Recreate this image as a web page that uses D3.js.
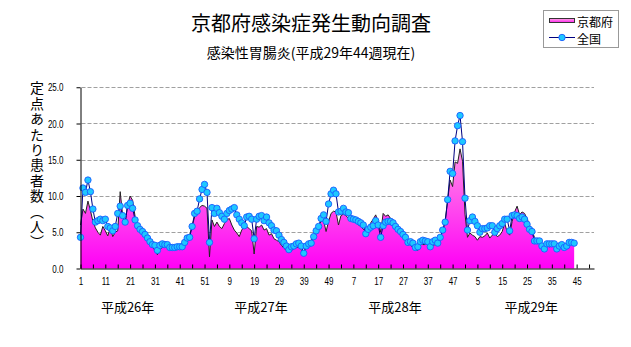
<!DOCTYPE html>
<html><head><meta charset="utf-8">
<script src="https://cdn.jsdelivr.net/npm/d3@7"></script>
<style>body{margin:0;background:#fff} svg{display:block}</style>
</head><body><svg id="c" width="631" height="347"></svg>
<script>
const title = "京都府感染症発生動向調査";
const subtitle = "感染性胃腸炎(平成29年44週現在)";
const yAxisTitle = "定点あたり患者数（人）";
const seriesNames = ["京都府", "全国"];
const yearLabels = ["平成26年", "平成27年", "平成28年", "平成29年"];
const weeksPerYear = 52;
const totalWeeks = 208;
const yTicks = [0, 5, 10, 15, 20, 25];

// 京都府 (i = 0 -> H26 week 1)
const kyoto = [
 6.0, 8.2, 7.6, 9.3, 8.0, 6.5, 5.6, 5.0, 4.6, 5.8, 5.2, 4.5, 5.6, 4.4, 5.0, 5.2, 10.6, 7.3, 6.2, 8.8,
 10.0, 9.4, 7.2, 5.8, 5.1, 4.7, 4.3, 3.9, 3.5, 3.0, 2.5, 1.9, 2.6, 2.9, 3.0, 3.1, 2.8, 2.9, 3.0, 2.9,
 3.2, 3.6, 3.4, 3.9, 4.6, 5.9, 7.1, 7.9, 8.4, 8.7, 8.6, 8.3,
 1.6, 6.7, 5.8, 6.4, 5.8, 5.5, 6.2, 6.7, 6.9, 6.0, 5.3, 4.9, 4.4, 5.3, 5.8, 5.8, 5.5, 5.2, 2.0, 5.8,
 5.7, 6.0, 5.3, 5.5, 4.6, 4.8, 4.1, 3.9, 3.7, 3.2, 2.8, 2.5, 2.3, 2.5, 2.7, 2.9, 3.0, 2.6, 1.9, 3.4,
 3.7, 3.9, 4.6, 5.5, 6.0, 6.5, 6.6, 5.1, 6.5, 7.6, 7.9, 7.8,
 6.0, 7.3, 7.5, 7.3, 6.9, 6.7, 6.6, 6.4, 6.0, 5.8, 5.4, 5.2, 5.6, 6.3, 6.8, 7.4, 6.4, 5.0, 7.6, 7.2,
 7.4, 6.9, 6.5, 6.0, 5.6, 4.9, 4.4, 3.9, 3.6, 3.2, 2.9, 2.6, 2.5, 3.4, 3.3, 3.3, 3.4, 2.8, 3.2, 3.3,
 3.4, 4.2, 5.2, 6.5, 9.4, 12.2, 11.3, 14.7, 14.5, 16.5, 14.8, 7.5,
 4.3, 4.9, 4.6, 4.4, 3.9, 4.4, 4.3, 4.5, 4.9, 4.2, 4.6, 4.9, 4.4, 4.6, 5.1, 6.3, 5.0, 4.6, 6.5, 7.8,
 8.6, 7.4, 7.8, 7.6, 6.9, 6.0, 5.2, 4.3, 3.9, 3.7, 3.0, 2.4, 3.1, 3.0, 3.1, 3.0, 2.5, 3.0, 2.8, 3.0,
 2.8, 3.4, 3.4, 3.1
];

// 全国
const national = [
 4.3, 11.1, 10.5, 12.2, 10.6, 8.2, 6.4, 6.6, 6.8, 6.6, 6.8, 5.8, 5.6, 5.2, 5.8, 7.6, 8.6, 7.3, 6.4, 8.7,
 9.0, 8.3, 6.7, 5.9, 5.4, 5.1, 4.7, 4.2, 3.7, 3.3, 3.2, 2.5, 3.2, 3.4, 3.3, 3.3, 2.9, 2.9, 2.9, 3.0,
 3.0, 3.0, 3.6, 4.2, 4.3, 5.8, 7.6, 7.9, 9.6, 10.9, 11.6, 10.5,
 3.6, 8.4, 7.6, 8.3, 7.7, 7.2, 6.8, 7.6, 8.0, 8.2, 8.4, 7.4, 6.8, 6.3, 5.9, 7.1, 7.2, 6.8, 4.1, 6.8,
 7.2, 7.3, 6.6, 7.1, 6.3, 5.9, 5.3, 5.2, 4.6, 4.0, 3.6, 3.1, 2.6, 3.0, 3.1, 3.4, 3.5, 3.1, 2.1, 3.1,
 3.4, 3.5, 4.4, 5.2, 5.8, 6.9, 7.4, 6.5, 8.9, 10.3, 10.8, 10.3,
 7.8, 7.9, 8.3, 7.8, 7.7, 6.9, 6.8, 6.7, 6.5, 6.3, 6.0, 4.8, 5.4, 5.7, 5.9, 6.6, 6.0, 4.3, 5.9, 6.4,
 6.5, 6.5, 6.3, 5.8, 5.4, 5.1, 4.7, 4.3, 3.6, 3.7, 3.5, 2.9, 3.0, 3.7, 3.9, 3.8, 3.7, 3.0, 3.7, 3.9,
 3.5, 4.3, 5.3, 6.4, 9.5, 13.4, 13.1, 17.6, 19.7, 21.1, 17.5, 9.7,
 5.3, 6.6, 7.1, 6.5, 5.9, 5.0, 5.5, 5.5, 5.6, 5.9, 5.9, 5.0, 5.5, 5.9, 6.2, 6.8, 6.8, 5.2, 7.3, 7.4,
 7.3, 6.9, 7.1, 6.8, 6.1, 5.4, 5.1, 3.8, 3.8, 3.8, 3.1, 2.7, 3.4, 3.4, 3.4, 3.4, 2.7, 3.1, 3.3, 2.9,
 3.1, 3.6, 3.6, 3.5
];

const svg = d3.select("#c");
const jp = "'Noto Sans CJK JP','Noto Sans',sans-serif";
const num = "'Liberation Sans',Arial,sans-serif";

const x = d3.scaleLinear().domain([0, totalWeeks - 1]).range([80.5, 594]);
const y = d3.scaleLinear().domain([0, 25]).range([268.5, 87.25]);

const defs = svg.append("defs");
const g1 = defs.append("linearGradient").attr("id", "pk")
  .attr("gradientUnits", "userSpaceOnUse").attr("x1", 0).attr("x2", 0)
  .attr("y1", y(19)).attr("y2", y(0));
g1.append("stop").attr("offset", 0).attr("stop-color", "#ffa8e4");
g1.append("stop").attr("offset", 1).attr("stop-color", "#ff00f6");
const g2 = defs.append("linearGradient").attr("id", "pkl")
  .attr("x1", 0).attr("x2", 0).attr("y1", 0).attr("y2", 1);
g2.append("stop").attr("offset", 0).attr("stop-color", "#ffa8e4");
g2.append("stop").attr("offset", 1).attr("stop-color", "#ff22f0");

// grid
svg.append("g").selectAll("line").data(yTicks.filter(d => d > 0)).join("line")
  .attr("x1", x(0) + 1).attr("x2", x(totalWeeks - 1))
  .attr("y1", d => Math.round(y(d)) + 0.5).attr("y2", d => Math.round(y(d)) + 0.5)
  .attr("stroke", "#a0a0a0").attr("stroke-width", 1).attr("stroke-dasharray", "4,2");

// 京都府 area + outline
const idx = (d, i) => x(i);
svg.append("path").datum(kyoto)
  .attr("d", d3.area().x(idx).y0(y(0)).y1(d => y(d)))
  .attr("fill", "url(#pk)");
svg.append("path").datum(kyoto)
  .attr("d", d3.line().x(idx).y(d => y(d)))
  .attr("fill", "none").attr("stroke", "#222").attr("stroke-width", 1);

// 全国 line + markers
svg.append("path").datum(national)
  .attr("d", d3.line().x(idx).y(d => y(d)))
  .attr("fill", "none").attr("stroke", "#000080").attr("stroke-width", 1);
svg.append("g").selectAll("circle").data(national).join("circle")
  .attr("cx", idx).attr("cy", d => y(d)).attr("r", 3.2)
  .attr("fill", "#1ec8ff").attr("stroke", "#1a5cff").attr("stroke-width", 0.9);

// y axis
const yAx = svg.append("g").attr("transform", "translate(80.5,0)")
  .call(d3.axisLeft(y).tickValues(yTicks).tickFormat(d3.format(".1f")).tickSize(4).tickSizeOuter(0));
yAx.select(".domain").attr("stroke", "#000");
yAx.selectAll("line").attr("stroke", "#000");
yAx.selectAll("text").attr("x", -17 / 0.73).attr("transform", "scale(0.73,1)")
  .attr("font-family", num).attr("font-size", 11).attr("fill", "#000");

// x axis
const xAx = svg.append("g").attr("transform", `translate(0,${y(0)})`)
  .call(d3.axisBottom(x).tickValues(d3.range(0, totalWeeks, 5)).tickSizeInner(-4).tickSizeOuter(0)
    .tickPadding(9).tickFormat(i => i % 10 === 0 ? String(i % weeksPerYear + 1) : ""));
xAx.select(".domain").attr("stroke", "#000");
xAx.selectAll("line").attr("stroke", "#000");
xAx.selectAll("text").attr("transform", "scale(0.73,1)")
  .attr("font-family", num).attr("font-size", 11).attr("fill", "#000");

// year labels
const yearOffsets = [19, 20.8, 22.8, 25.7];
svg.append("g").selectAll("text").data(yearLabels).join("text")
  .attr("x", (d, k) => x(k * weeksPerYear + yearOffsets[k]))
  .attr("y", 306).attr("text-anchor", "middle").attr("dominant-baseline", "central")
  .attr("font-family", jp).attr("font-size", 13).text(d => d);

// titles
svg.append("text").attr("x", 311).attr("y", 22).attr("text-anchor", "middle")
  .attr("dominant-baseline", "central").attr("font-family", jp).attr("font-size", 20).text(title);
svg.append("text").attr("x", 311).attr("y", 52).attr("text-anchor", "middle")
  .attr("dominant-baseline", "central").attr("font-family", jp).attr("font-size", 14).text(subtitle);

// y title (vertical)
svg.append("text").attr("x", 37).attr("y", 81)
  .style("writing-mode", "vertical-rl").attr("font-family", jp).attr("font-size", 14)
  .attr("letter-spacing", 1.4).text(yAxisTitle);

// legend
const lg = svg.append("g");
lg.append("rect").attr("x", 543.5).attr("y", 10.5).attr("width", 75).attr("height", 37)
  .attr("fill", "#fff").attr("stroke", "#999");
lg.append("rect").attr("x", 549.5).attr("y", 18.5).attr("width", 25).attr("height", 4)
  .attr("fill", "url(#pkl)").attr("stroke", "#333");
lg.append("line").attr("x1", 549).attr("x2", 575).attr("y1", 37.5).attr("y2", 37.5)
  .attr("stroke", "#000080");
lg.append("circle").attr("cx", 562).attr("cy", 37.5).attr("r", 3.2)
  .attr("fill", "#1ec8ff").attr("stroke", "#1a5cff").attr("stroke-width", 0.9);
lg.selectAll("text.l").data(seriesNames).join("text").attr("class", "l")
  .attr("x", 577).attr("y", (d, k) => k === 0 ? 21 : 38).attr("dominant-baseline", "central")
  .attr("font-family", jp).attr("font-size", 12).text(d => d);
</script></body></html>
